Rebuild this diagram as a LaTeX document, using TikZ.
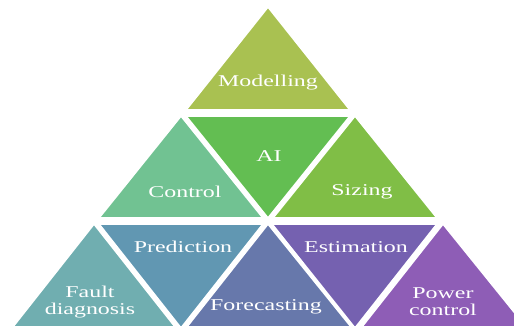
\documentclass[tikz,border=0pt]{standalone}
\usepackage{fontspec}
\setmainfont{Liberation Serif}
\definecolor{cModel}{HTML}{A9C151}
\definecolor{cAI}{HTML}{63BE52}
\definecolor{cControl}{HTML}{71C292}
\definecolor{cSizing}{HTML}{80BE46}
\definecolor{cFault}{HTML}{70AEB0}
\definecolor{cPredict}{HTML}{6197B2}
\definecolor{cForecast}{HTML}{6778AB}
\definecolor{cEstim}{HTML}{7561B0}
\definecolor{cPower}{HTML}{8E5DB6}
\tikzset{
  tri/.style={draw=white, line width=1.6pt, line join=miter},
  lbl/.style={text=white, xscale=1.45, align=center,
    font=\fontsize{16.5}{12}\selectfont},
}
\begin{document}
\begin{tikzpicture}[x=1pt, y=-1pt]
\useasboundingbox (0,0) rectangle (514,326);
\clip (0,0) rectangle (514,326);
% top row
\fill[cModel, tri] (268,7) -- (350,110) -- (186,110) -- cycle;
% middle row
\fill[cControl, tri] (181,116) -- (263,218) -- (99,218) -- cycle;
\fill[cAI, tri] (186,116) -- (350,116) -- (268,218) -- cycle;
\fill[cSizing, tri] (355,116) -- (437,218) -- (273,218) -- cycle;
% bottom row
\fill[cFault, tri] (94,224) -- (176,328) -- (12,328) -- cycle;
\fill[cPredict, tri] (99,224) -- (263,224) -- (181,328) -- cycle;
\fill[cForecast, tri] (268,224) -- (352,328) -- (186,328) -- cycle;
\fill[cEstim, tri] (272,224) -- (437,224) -- (355,328) -- cycle;
\fill[cPower, tri] (443,224) -- (527,328) -- (361,328) -- cycle;
% labels
\node[lbl] (model) at (268,83) {Modelling};
\node[lbl] (ai) at (269,156) {AI};
\node[lbl] (control) at (185,192) {Control};
\node[lbl] (sizing) at (362,192) {Sizing};
\node[lbl] (predict) at (183,247) {Prediction};
\node[lbl] (estim) at (356,247) {Estimation};
\node[lbl, font=\fontsize{16.5}{17}\selectfont] (fault) at (90,302) {Fault\\diagnosis};
\node[lbl] (forecast) at (266,307) {Forecasting};
\node[lbl, font=\fontsize{16.5}{17}\selectfont] (power) at (443,302) {Power\\control};
\end{tikzpicture}
\end{document}
